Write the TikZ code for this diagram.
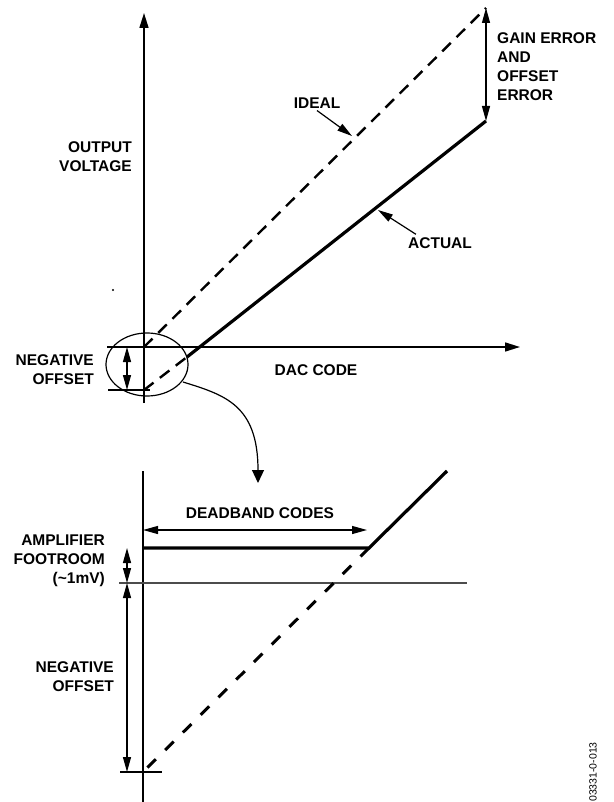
\documentclass[tikz,border=0pt]{standalone}
\usepackage{fontspec}
\setmainfont{Liberation Sans}
\usetikzlibrary{arrows.meta}

\begin{document}
\begin{tikzpicture}[x=1pt,y=-1pt,
    lbl/.style={font=\fontsize{15.5}{19}\selectfont\bfseries,inner sep=0pt},
    axis/.style={line width=1.6pt},
    lean/.style={line width=1.2pt},
    bold/.style={line width=3.2pt},
    dsh/.style={line width=2.4pt,dash pattern=on 12pt off 8pt},
    dshwide/.style={line width=3pt,dash pattern=on 12pt off 13pt},
    axhead/.style={-{Triangle[length=15pt,width=9pt]}},
    onehead/.style={-{Triangle[length=15pt,width=8pt]}},
    twohead/.style={{Triangle[length=15pt,width=8pt]}-{Triangle[length=15pt,width=8pt]}}]
    \useasboundingbox (0,0) rectangle (613,802);
    % upper graph
    \coordinate (o) at (144,347);
    \coordinate (ytop) at (144,13);
    \coordinate (ybot) at (144,403);
    \coordinate (xl) at (107,347);
    \coordinate (xr) at (520,347);
    \coordinate (itop) at (486,8);
    \coordinate (atop) at (486,121);
    \coordinate (aknee) at (187,357);
    \coordinate (aoff) at (144,390);
    \coordinate (offa) at (127,347);
    \coordinate (offb) at (127,390);
    \coordinate (tickl) at (108,390);
    \coordinate (tickr) at (150,390);
    \draw[axis,axhead] (ybot) -- (ytop);
    \draw[axis,axhead] (xl) -- (xr);
    \draw[dsh] (o) -- (itop);
    \draw[bold] (aknee) -- (atop);
    \draw[dsh] (aoff) -- (aknee);
    \draw[lean,twohead] (itop) -- (atop);
    \draw[lean,twohead] (offa) -- (offb);
    \draw[lean] (tickl) -- (tickr);
    \draw[lean] (147,364.5) ellipse [x radius=41, y radius=31.5];
    \fill (113,290) circle [radius=1.2];
    \node[lbl,align=right,anchor=east] (vout) at (132,157) {OUTPUT\\VOLTAGE};
    \node[lbl] (ideal) at (317,103) {IDEAL};
    \node[lbl] (actual) at (440,243) {ACTUAL};
    \node[lbl,align=left,anchor=west] (gain) at (497,66.5) {GAIN ERROR\\AND\\OFFSET\\ERROR};
    \node[lbl] (dac) at (316,370) {DAC CODE};
    \node[lbl,align=right,anchor=east] (negtop) at (94,370) {NEGATIVE\\OFFSET};
    \coordinate (iend) at (352,136);
    \coordinate (aend) at (378,210);
    \draw[lean,onehead] (ideal.south) ++(0,2) -- (iend);
    \draw[lean,onehead] (actual.north west) ++(8,-3) -- (aend);
    % zoom link
    \coordinate (zs) at (183,382);
    \coordinate (ze) at (258,483);
    \draw[lean,-{Triangle[length=13pt,width=12pt]}] (zs) .. controls (225,395) and (258,405) .. (ze);
    % lower graph
    \coordinate (vtop) at (143,471);
    \coordinate (vbot) at (143,802);
    \coordinate (zl) at (119,583);
    \coordinate (zr) at (467,583);
    \coordinate (flat) at (143,548);
    \coordinate (knee) at (369,548);
    \coordinate (rise) at (447,471);
    \coordinate (low) at (143,772);
    \coordinate (lowl) at (120,772);
    \coordinate (lowr) at (162,772);
    \coordinate (dbl) at (143,530);
    \coordinate (dbr) at (367,530);
    \coordinate (fa) at (127,548);
    \coordinate (fb) at (127,583);
    \coordinate (fc) at (127,772);
    \draw[axis] (vtop) -- (vbot);
    \draw[line width=1.5pt,black!70] (zl) -- (zr);
    \draw[bold] (flat) -- (knee) -- (rise);
    \draw[dshwide] (knee) -- (low);
    \draw[lean] (lowl) -- (lowr);
    \draw[lean,twohead] (dbl) -- (dbr);
    \draw[lean,twohead] (fa) -- (fb);
    \draw[lean,twohead] (fb) -- (fc);
    \node[lbl] (dead) at (260,513) {DEADBAND CODES};
    \node[lbl,align=right,anchor=east] (amp) at (105,561) {AMPLIFIER\\FOOTROOM\\(\textasciitilde1mV)};
    \node[lbl,align=right,anchor=east] (negbot) at (114,676.5) {NEGATIVE\\OFFSET};
    \node[rotate=90,font=\fontsize{10.5}{12}\selectfont,inner sep=0pt] (fig) at (593,772) {03331-0-013};
\end{tikzpicture}
\end{document}
